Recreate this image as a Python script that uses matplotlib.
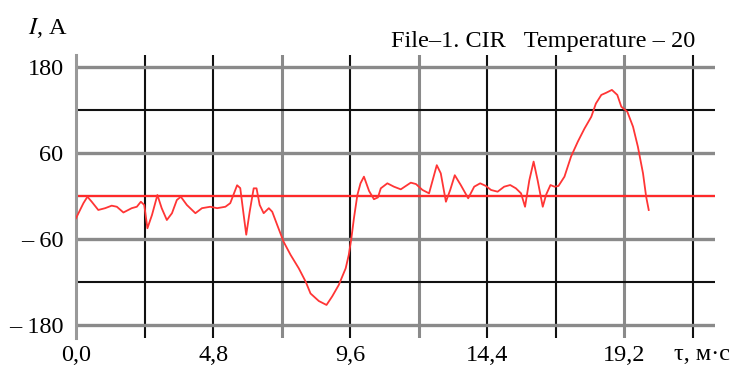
import matplotlib.pyplot as plt

plt.rcParams['font.family'] = ['Liberation Serif', 'DejaVu Serif']
plt.rcParams['mathtext.fontset'] = 'stix'

# time, ms
t_ms = [0.00, 0.26, 0.40, 0.55, 0.78, 1.02, 1.25, 1.43, 1.66, 1.95, 2.13, 2.27,
        2.39, 2.50, 2.66, 2.85, 3.00, 3.18, 3.36, 3.53, 3.67, 3.88, 4.18, 4.41,
        4.70, 4.94, 5.23, 5.40, 5.64, 5.75, 5.87, 5.96, 6.08, 6.22, 6.32, 6.43,
        6.57, 6.75, 6.87, 7.04, 7.27, 7.51, 7.80, 8.04, 8.21, 8.50, 8.77, 8.97,
        9.20, 9.44, 9.55, 9.64, 9.73, 9.85, 9.96, 10.08, 10.26, 10.43, 10.57,
        10.67, 10.90, 11.13, 11.37, 11.72, 11.90, 12.13, 12.36, 12.63, 12.77,
        12.95, 13.10, 13.26, 13.47, 13.73, 13.94, 14.15, 14.35, 14.53, 14.76,
        14.99, 15.20, 15.40, 15.58, 15.72, 15.87, 16.02, 16.16, 16.34, 16.46,
        16.61, 16.75, 16.89, 17.10, 17.33, 17.57, 17.80, 18.04, 18.20, 18.39,
        18.56, 18.76, 18.95, 19.09, 19.30, 19.50, 19.67, 19.85, 19.96, 20.05]
# current, A
current = [-31, -10, -1, -8, -19.5, -17, -13.5, -15, -23, -17, -15, -8,
           -12.5, -45, -26.5, 1.4, -17, -33.5, -24, -5.6, -1, -12.5, -24, -17,
           -15, -17, -15, -10, 15, 11, -26.5, -54, -22, 10.7, 10.7, -12.5,
           -24, -17, -22, -40, -64, -82, -101, -119.5, -136, -146.5, -152, -140,
           -124, -101, -82, -59, -31, 1.4, 17.7, 27, 7, -4.5, -2,
           10.7, 17.7, 13, 9.3, 18.6, 16.7, 8.4, 3.7, 43, 31.6,
           -8, 8.4, 29, 15.3, -3.2, 13, 17.7, 14, 8.4, 6,
           13, 15.3, 10.7, 3.7, -15, 22, 48, 22, -15, 2,
           15.3, 13, 14, 27, 55, 76, 94, 110.6, 129, 141,
           144, 148, 141, 124.6, 117.6, 96.7, 68.8, 31.6, -1, -19.5]

x_ticks = [0.0, 4.8, 9.6, 14.4, 19.2]
x_labels = ['0,0', '4,8', '9,6', '14,4', '19,2']
y_ticks = [180, 60, -60, -180]
y_labels = ['180', '60', '\u2013 60', '\u2013 180']
x_grid_black = [2.4, 4.8, 9.6, 14.4, 16.8, 21.6]
x_grid_gray = [7.2, 12.0, 19.2]
y_grid_black = [120, 0, -120]

fig = plt.figure(figsize=(7.47, 3.68), dpi=100)
ax = fig.add_axes([76 / 747, 30 / 368, 639 / 747, 283 / 368])
ax.set_xlim(0, 22.37)
ax.set_ylim(-198.1, 196.7)

for x in x_grid_black:
    ax.axvline(x, color='#111111', lw=1.5, zorder=1)
for x in x_grid_gray:
    ax.axvline(x, color='#8a8a8a', lw=2.2, zorder=1)
for y in y_ticks:
    ax.axhline(y, color='#8a8a8a', lw=2.4, zorder=1)
for y in y_grid_black:
    ax.axhline(y, color='#111111', lw=1.5, zorder=1)

ax.axhline(0, color='#ff2a2a', lw=1.6, zorder=2)
ax.plot(t_ms, current, color='#ff3535', lw=1.3, zorder=3)

for s in ['top', 'right', 'bottom']:
    ax.spines[s].set_visible(False)
ax.spines['left'].set_color('#999999')
ax.spines['left'].set_linewidth(2.2)

ax.set_xticks(x_ticks)
ax.set_xticklabels(x_labels)
ax.set_yticks(y_ticks)
ax.set_yticklabels(y_labels)
ax.tick_params(axis='both', length=0, labelsize=17.5)
ax.tick_params(axis='y', pad=9)
ax.tick_params(axis='x', pad=5)

fig.text(28 / 747, 1 - 28 / 368, r'$I$, A', fontsize=17.5, va='center', ha='left')
fig.text(695 / 747, 1 - 42 / 368, 'File\u20131. CIR   Temperature \u2013 20',
         fontsize=17.5, va='center', ha='right')
fig.text(702 / 747, 1 - 354 / 368, '\u03c4, \u043c\u00b7\u0441', fontsize=17.5,
         va='center', ha='center')

plt.savefig('out.png', dpi=100)
plt.close()
